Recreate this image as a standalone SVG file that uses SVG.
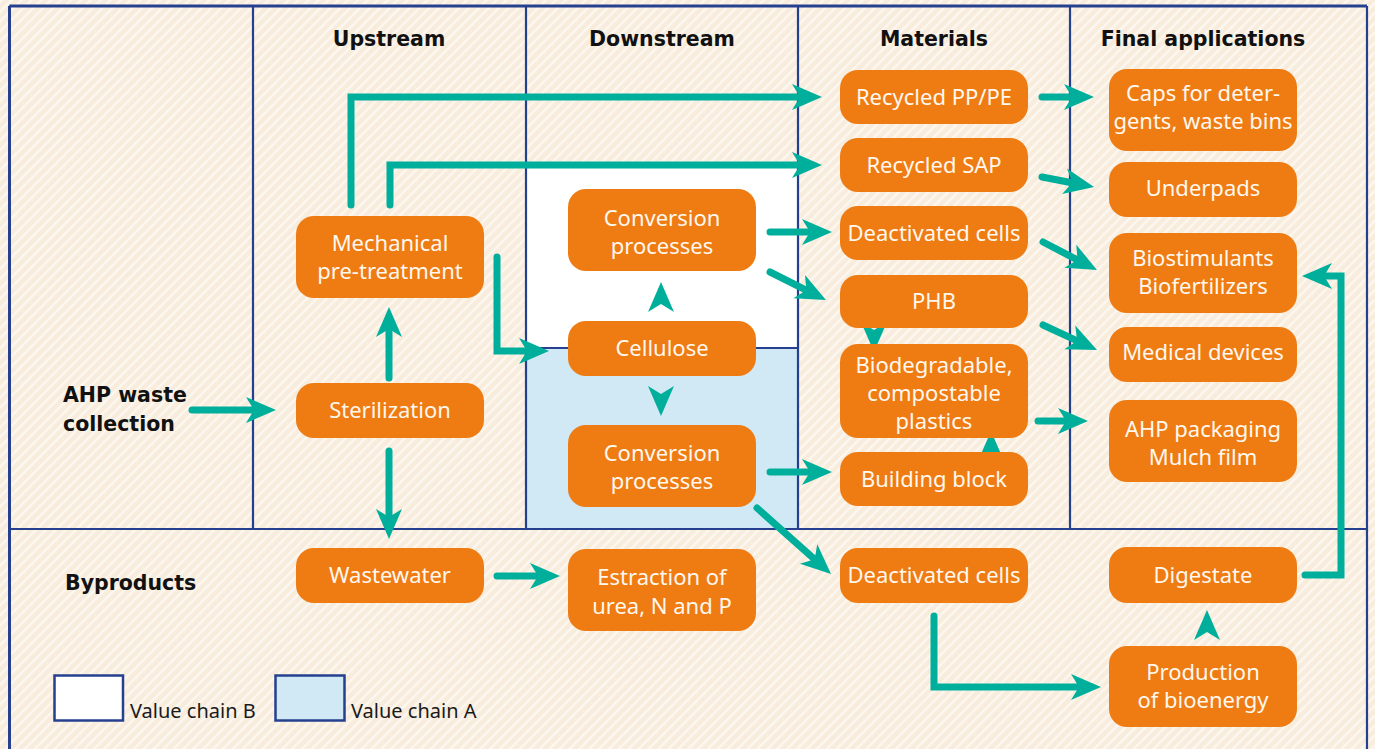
<svg xmlns="http://www.w3.org/2000/svg" width="1375" height="749" viewBox="0 0 1375 749">
<defs>
<pattern id="stripes" patternUnits="userSpaceOnUse" width="7" height="7" patternTransform="rotate(45)">
<rect width="7" height="7" fill="#F8ECDC"/>
<rect width="2.4" height="7" fill="#FFFFFF" opacity="0.6"/>
</pattern>
<marker id="ah" markerUnits="userSpaceOnUse" markerWidth="30" markerHeight="26" refX="10" refY="13" orient="auto" overflow="visible">
<path d="M0,0 L30,13 L0,26 L8,13 z" fill="#00AF9B"/>
</marker>
<path id="head" d="M0,0 L-30,-13 L-22,0 L-30,13 z" fill="#00AF9B"/>
</defs>
<style>
.grid{stroke:#24408E;stroke-width:2.2;fill:none}
.node rect{fill:#EF7B13}
.node text{font-family:"Noto Sans",sans-serif;font-size:22px;fill:#FFF8EE;text-anchor:middle}
.hdr{font-family:"DejaVu Sans",sans-serif;font-weight:bold;font-size:20.5px;fill:#111;text-anchor:middle}
.lbl{font-family:"DejaVu Sans",sans-serif;font-weight:bold;font-size:20.5px;fill:#111}
.leg{font-family:"Noto Sans",sans-serif;font-size:20px;fill:#1a1a1a}
.con path{stroke:#00AF9B;stroke-width:7;fill:none;stroke-linecap:round;stroke-linejoin:miter;marker-end:url(#ah)}
</style>
<rect width="1375" height="749" fill="url(#stripes)"/>
<rect x="526" y="168" width="272" height="180" fill="#FFFFFF"/>
<rect x="526" y="348" width="272" height="181" fill="#D1E8F5"/>
<g id="grid">
<path class="grid" d="M9.5,6 H1367 M9.5,6 V760 M1367,6 V760 M253,6 V529 M526,6 V529 M798,6 V529 M1070,6 V529 M9.5,529 H1367 M526,348 H798" />
<path d="M9.5,6 H1367 M9.5,6 V760" stroke="#24408E" stroke-width="3" fill="none"/>
</g>
<g id="headers">
<text class="hdr" x="389" y="46">Upstream</text>
<text class="hdr" x="662" y="46">Downstream</text>
<text class="hdr" x="934" y="46">Materials</text>
<text class="hdr" x="1203" y="46">Final applications</text>
<text class="lbl" x="63" y="402">AHP waste</text>
<text class="lbl" x="63" y="431">collection</text>
<text class="lbl" x="65" y="590">Byproducts</text>
</g>
<g id="connectors" class="con">
<path d="M351,205 V97 H802"/>
<path d="M390,205 V165 H802"/>
<path d="M497,257 V351 H529"/>
<path d="M192,410 H256"/>
<path d="M389,378 V327"/>
<path d="M389,451 V519"/>
<path d="M497,576 H540"/>
<path d="M770,232 H812"/>
<path d="M770,272 L808.1,291.1"/>
<path d="M770,472 H812"/>
<path d="M757,508 L816.1,560.7"/>
<path d="M1038,421 H1068"/>
<path d="M1042,97 H1074"/>
<path d="M1042,177 L1074.4,183.2"/>
<path d="M1043,242 L1079.2,260.8"/>
<path d="M1043,325 L1078.9,341.6"/>
<path d="M1305,575 H1341 V276 H1322"/>
<path d="M934,616 V687 H1081"/>
<use href="#head" transform="translate(661,282) rotate(-90)"/>
<use href="#head" transform="translate(661,416) rotate(90)"/>
<use href="#head" transform="translate(874,352) rotate(90)"/>
<use href="#head" transform="translate(991,431) rotate(-90)"/>
<use href="#head" transform="translate(1207,610) rotate(-90)"/>
</g>
<g id="n-mech" class="node"><rect x="296" y="216" width="188" height="82" rx="18"/><text x="390" y="251">Mechanical</text><text x="390" y="279">pre-treatment</text></g>
<g id="n-steril" class="node"><rect x="296" y="383" width="188" height="55" rx="18"/><text x="390" y="418">Sterilization</text></g>
<g id="n-waste" class="node"><rect x="296" y="548" width="188" height="55" rx="18"/><text x="390" y="583">Wastewater</text></g>
<g id="n-conv1" class="node"><rect x="568" y="189" width="188" height="82" rx="18"/><text x="662" y="225.5">Conversion</text><text x="662" y="254">processes</text></g>
<g id="n-cell" class="node"><rect x="568" y="321" width="188" height="55" rx="18"/><text x="662" y="356">Cellulose</text></g>
<g id="n-conv2" class="node"><rect x="568" y="425" width="188" height="82" rx="18"/><text x="662" y="460.5">Conversion</text><text x="662" y="489">processes</text></g>
<g id="n-estr" class="node"><rect x="568" y="549" width="188" height="82" rx="18"/><text x="662" y="585">Estraction of</text><text x="662" y="613.5">urea, N and P</text></g>
<g id="n-pppe" class="node"><rect x="840" y="70" width="188" height="54" rx="18"/><text x="934" y="104.5">Recycled PP/PE</text></g>
<g id="n-sap" class="node"><rect x="840" y="138" width="188" height="54" rx="18"/><text x="934" y="172.5">Recycled SAP</text></g>
<g id="n-deact1" class="node"><rect x="840" y="206" width="188" height="54" rx="18"/><text x="934" y="240.5">Deactivated cells</text></g>
<g id="n-phb" class="node"><rect x="840" y="275" width="188" height="53" rx="18"/><text x="934" y="309">PHB</text></g>
<g id="n-bio" class="node"><rect x="840" y="344" width="188" height="94" rx="18"/><text x="934" y="373">Biodegradable,</text><text x="934" y="401">compostable</text><text x="934" y="429">plastics</text></g>
<g id="n-block" class="node"><rect x="840" y="452" width="188" height="54" rx="18"/><text x="934" y="487">Building block</text></g>
<g id="n-deact2" class="node"><rect x="840" y="548" width="188" height="55" rx="18"/><text x="934" y="583">Deactivated cells</text></g>
<g id="n-caps" class="node"><rect x="1109" y="69" width="188" height="82" rx="18"/><text x="1203" y="100.5">Caps for deter-</text><text x="1203" y="129">gents, waste bins</text></g>
<g id="n-under" class="node"><rect x="1109" y="162" width="188" height="55" rx="18"/><text x="1203" y="196">Underpads</text></g>
<g id="n-biost" class="node"><rect x="1109" y="233" width="188" height="80" rx="18"/><text x="1203" y="265.5">Biostimulants</text><text x="1203" y="294">Biofertilizers</text></g>
<g id="n-med" class="node"><rect x="1109" y="327" width="188" height="55" rx="18"/><text x="1203" y="360">Medical devices</text></g>
<g id="n-pack" class="node"><rect x="1109" y="400" width="188" height="82" rx="18"/><text x="1203" y="436.5">AHP packaging</text><text x="1203" y="465">Mulch film</text></g>
<g id="n-dig" class="node"><rect x="1109" y="547" width="188" height="56" rx="18"/><text x="1203" y="583">Digestate</text></g>
<g id="n-prod" class="node"><rect x="1109" y="646" width="188" height="81" rx="18"/><text x="1203" y="680">Production</text><text x="1203" y="707.5">of bioenergy</text></g>
<g id="legend">
<rect x="54.5" y="675.5" width="68.5" height="45" fill="#FFFFFF" stroke="#24408E" stroke-width="2.5"/>
<text class="leg" x="130" y="718">Value chain B</text>
<rect x="275.5" y="675.5" width="69" height="45" fill="#D1E8F5" stroke="#24408E" stroke-width="2.5"/>
<text class="leg" x="351" y="718">Value chain A</text>
</g>
</svg>
